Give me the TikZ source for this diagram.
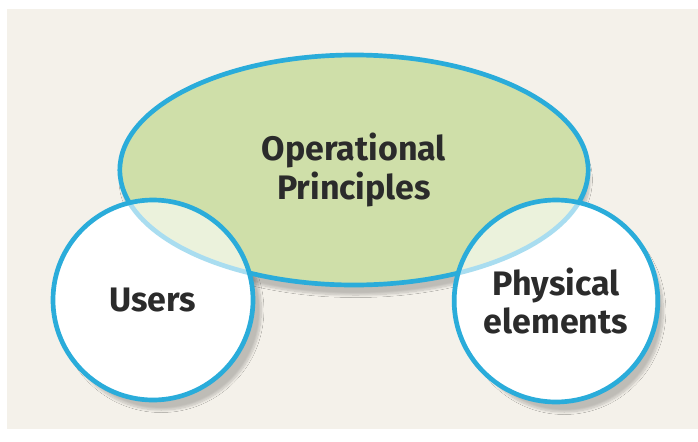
\documentclass[tikz,border=0pt]{standalone}
\usepackage{fontspec}
\setmainfont{Fira Sans}
\usetikzlibrary{shapes.geometric, shadows.blur}
\definecolor{venn-blue}{HTML}{2AACDA}
\definecolor{venn-green}{HTML}{CFDFA9}
\definecolor{venn-paper}{HTML}{F4F1EA}
\definecolor{venn-text}{HTML}{2B2B2B}
\tikzset{
    venn-label/.style={
        font=\bfseries\fontsize{29}{32.5}\selectfont, text=venn-text, align=center
    },
    venn-main/.style={
        ellipse, inner sep=0pt, minimum width=14.05cm, minimum height=6.9cm
    },
    venn-users/.style={
        ellipse, inner sep=0pt, minimum width=6cm, minimum height=6cm
    },
    venn-phys/.style={
        ellipse, inner sep=0pt, minimum width=5.94cm, minimum height=6.06cm
    },
    venn-shade/.style={
        blur shadow={shadow xshift=#1, shadow yshift=-0.3cm, shadow opacity=22, shadow blur steps=12}
    },
    venn-line/.style={
        draw=venn-blue, line width=4pt, venn-label
    },
}

\begin{document}
\begin{tikzpicture}[x=0.03cm, y=-0.03cm]

        % PAPER
        \useasboundingbox (0,0) rectangle (698,441);
        \fill[white]       (0,0) rectangle (698,441);
        \fill[venn-paper]  (7,9) rectangle (698,429);

        % SHADOWS, WHITE UNDERLAYERS
        \node[venn-main,  venn-shade=0.05cm, fill=venn-green] (OPS)    at (354,170) {};
        \node[venn-users, venn-shade=0.25cm, fill=white]      (USERSS) at (153,300) {};
        \node[venn-phys,  venn-shade=0.25cm, fill=white]      (PHYSS)  at (556,301) {};

        % MAIN ELLIPSE
        \node[venn-main, venn-line, fill=venn-green] (OP) at (354,170) {Operational\\Principles};

        % SIDE CIRCLES
        \node[venn-users, venn-line, fill=white, fill opacity=.6, text opacity=1] (USERS) at (153,300) {Users};
        \node[venn-phys,  venn-line, fill=white, fill opacity=.6, text opacity=1] (PHYS)  at (556,301) {Physical\\elements};

    \end{tikzpicture}
\end{document}
